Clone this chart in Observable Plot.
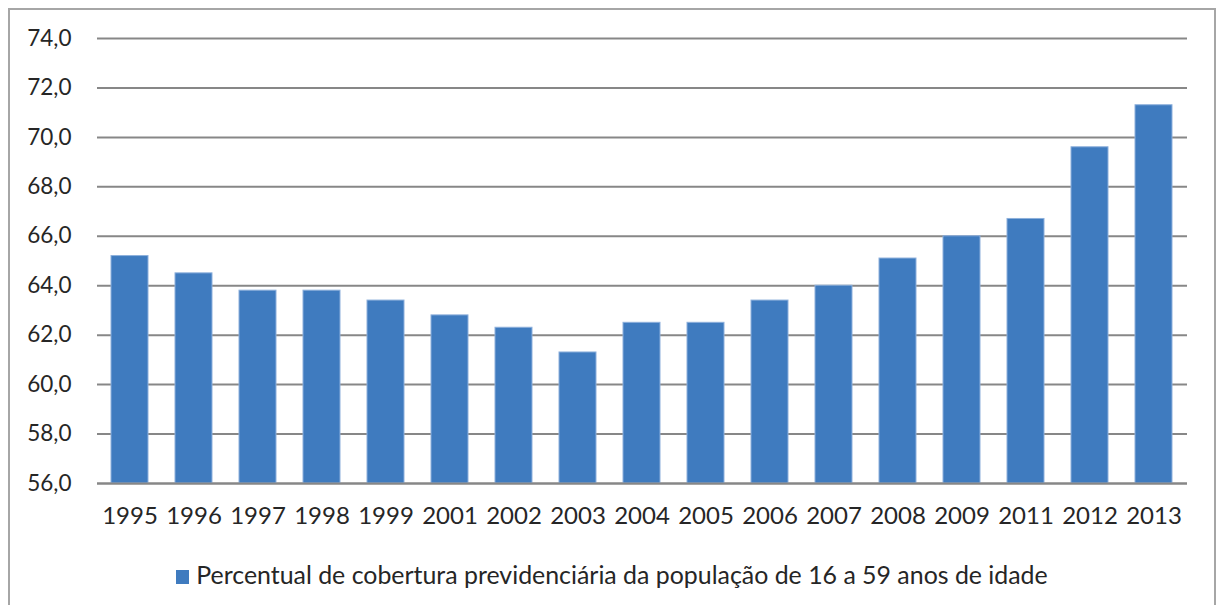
<!DOCTYPE html>
<html>
<head>
<meta charset="utf-8">
<script src="https://cdn.jsdelivr.net/npm/d3@7"></script>
<script src="https://cdn.jsdelivr.net/npm/@observablehq/plot@0.6"></script>
<style>
  html, body { margin: 0; padding: 0; background: #fff; }
  #frame {
    position: absolute; left: 8px; top: 8px; width: 1208px; height: 620px;
    border: 2px solid #a6a6a6; box-sizing: border-box; background: #fff;
  }
  #legend {
    position: absolute; left: 0; top: 549px; width: 1204px; text-align: center;
    font-family: Lato, "Open Sans", sans-serif; font-size: 24.9px; color: #262626; line-height: 30px;
  }
  #legend .sw { display: inline-block; width: 13px; height: 14px; background: #3f7bbf; margin-right: 7px; vertical-align: 0px; }
</style>
</head>
<body>
<div id="frame"><div id="chart"></div><div id="legend"><span class="sw"></span><span id="legtext"></span></div></div>
<script>
const years = ["1995","1996","1997","1998","1999","2001","2002","2003","2004","2005","2006","2007","2008","2009","2011","2012","2013"];
const values = [65.2, 64.5, 63.8, 63.8, 63.4, 62.8, 62.3, 61.3, 62.5, 62.5, 63.4, 64.0, 65.1, 66.0, 66.7, 69.6, 71.3];
const yTicks = [56, 58, 60, 62, 64, 66, 68, 70, 72, 74];
const seriesName = "Percentual de cobertura previdenciária da população de 16 a 59 anos de idade";

document.getElementById("legtext").textContent = seriesName;
const data = years.map((y, i) => ({year: y, value: values[i]}));
const fmt = d => d.toFixed(1).replace(".", ",");

const chart = Plot.plot({
  width: 1204,
  height: 540,
  marginLeft: 87,
  marginRight: 27,
  marginTop: 28,
  marginBottom: 67,
  style: {fontFamily: "Lato, 'Open Sans', sans-serif", fontSize: "22.5px", color: "#262626", background: "#fff"},
  x: {domain: years, paddingInner: 0.42, paddingOuter: 0.21, label: null, tickSize: 0, tickPadding: 23},
  y: {domain: [56, 74], ticks: yTicks, tickFormat: fmt, label: null, tickSize: 0, tickPadding: 26},
  marks: [
    Plot.ruleY(yTicks, {stroke: "#878787", strokeWidth: 2}),
    Plot.barY(data, {x: "year", y1: 56, y2: "value", fill: "#3f7bbf", stroke: "#8db0dc", strokeWidth: 1, title: d => `${d.year}: ${fmt(d.value)}`}),
    Plot.ruleY([56], {stroke: "#878787", strokeWidth: 2})
  ]
});
chart.querySelectorAll("[aria-label='x-axis tick label'] text").forEach(t => t.style.fontSize = "24px");
document.getElementById("chart").appendChild(chart);
</script>
</body>
</html>
